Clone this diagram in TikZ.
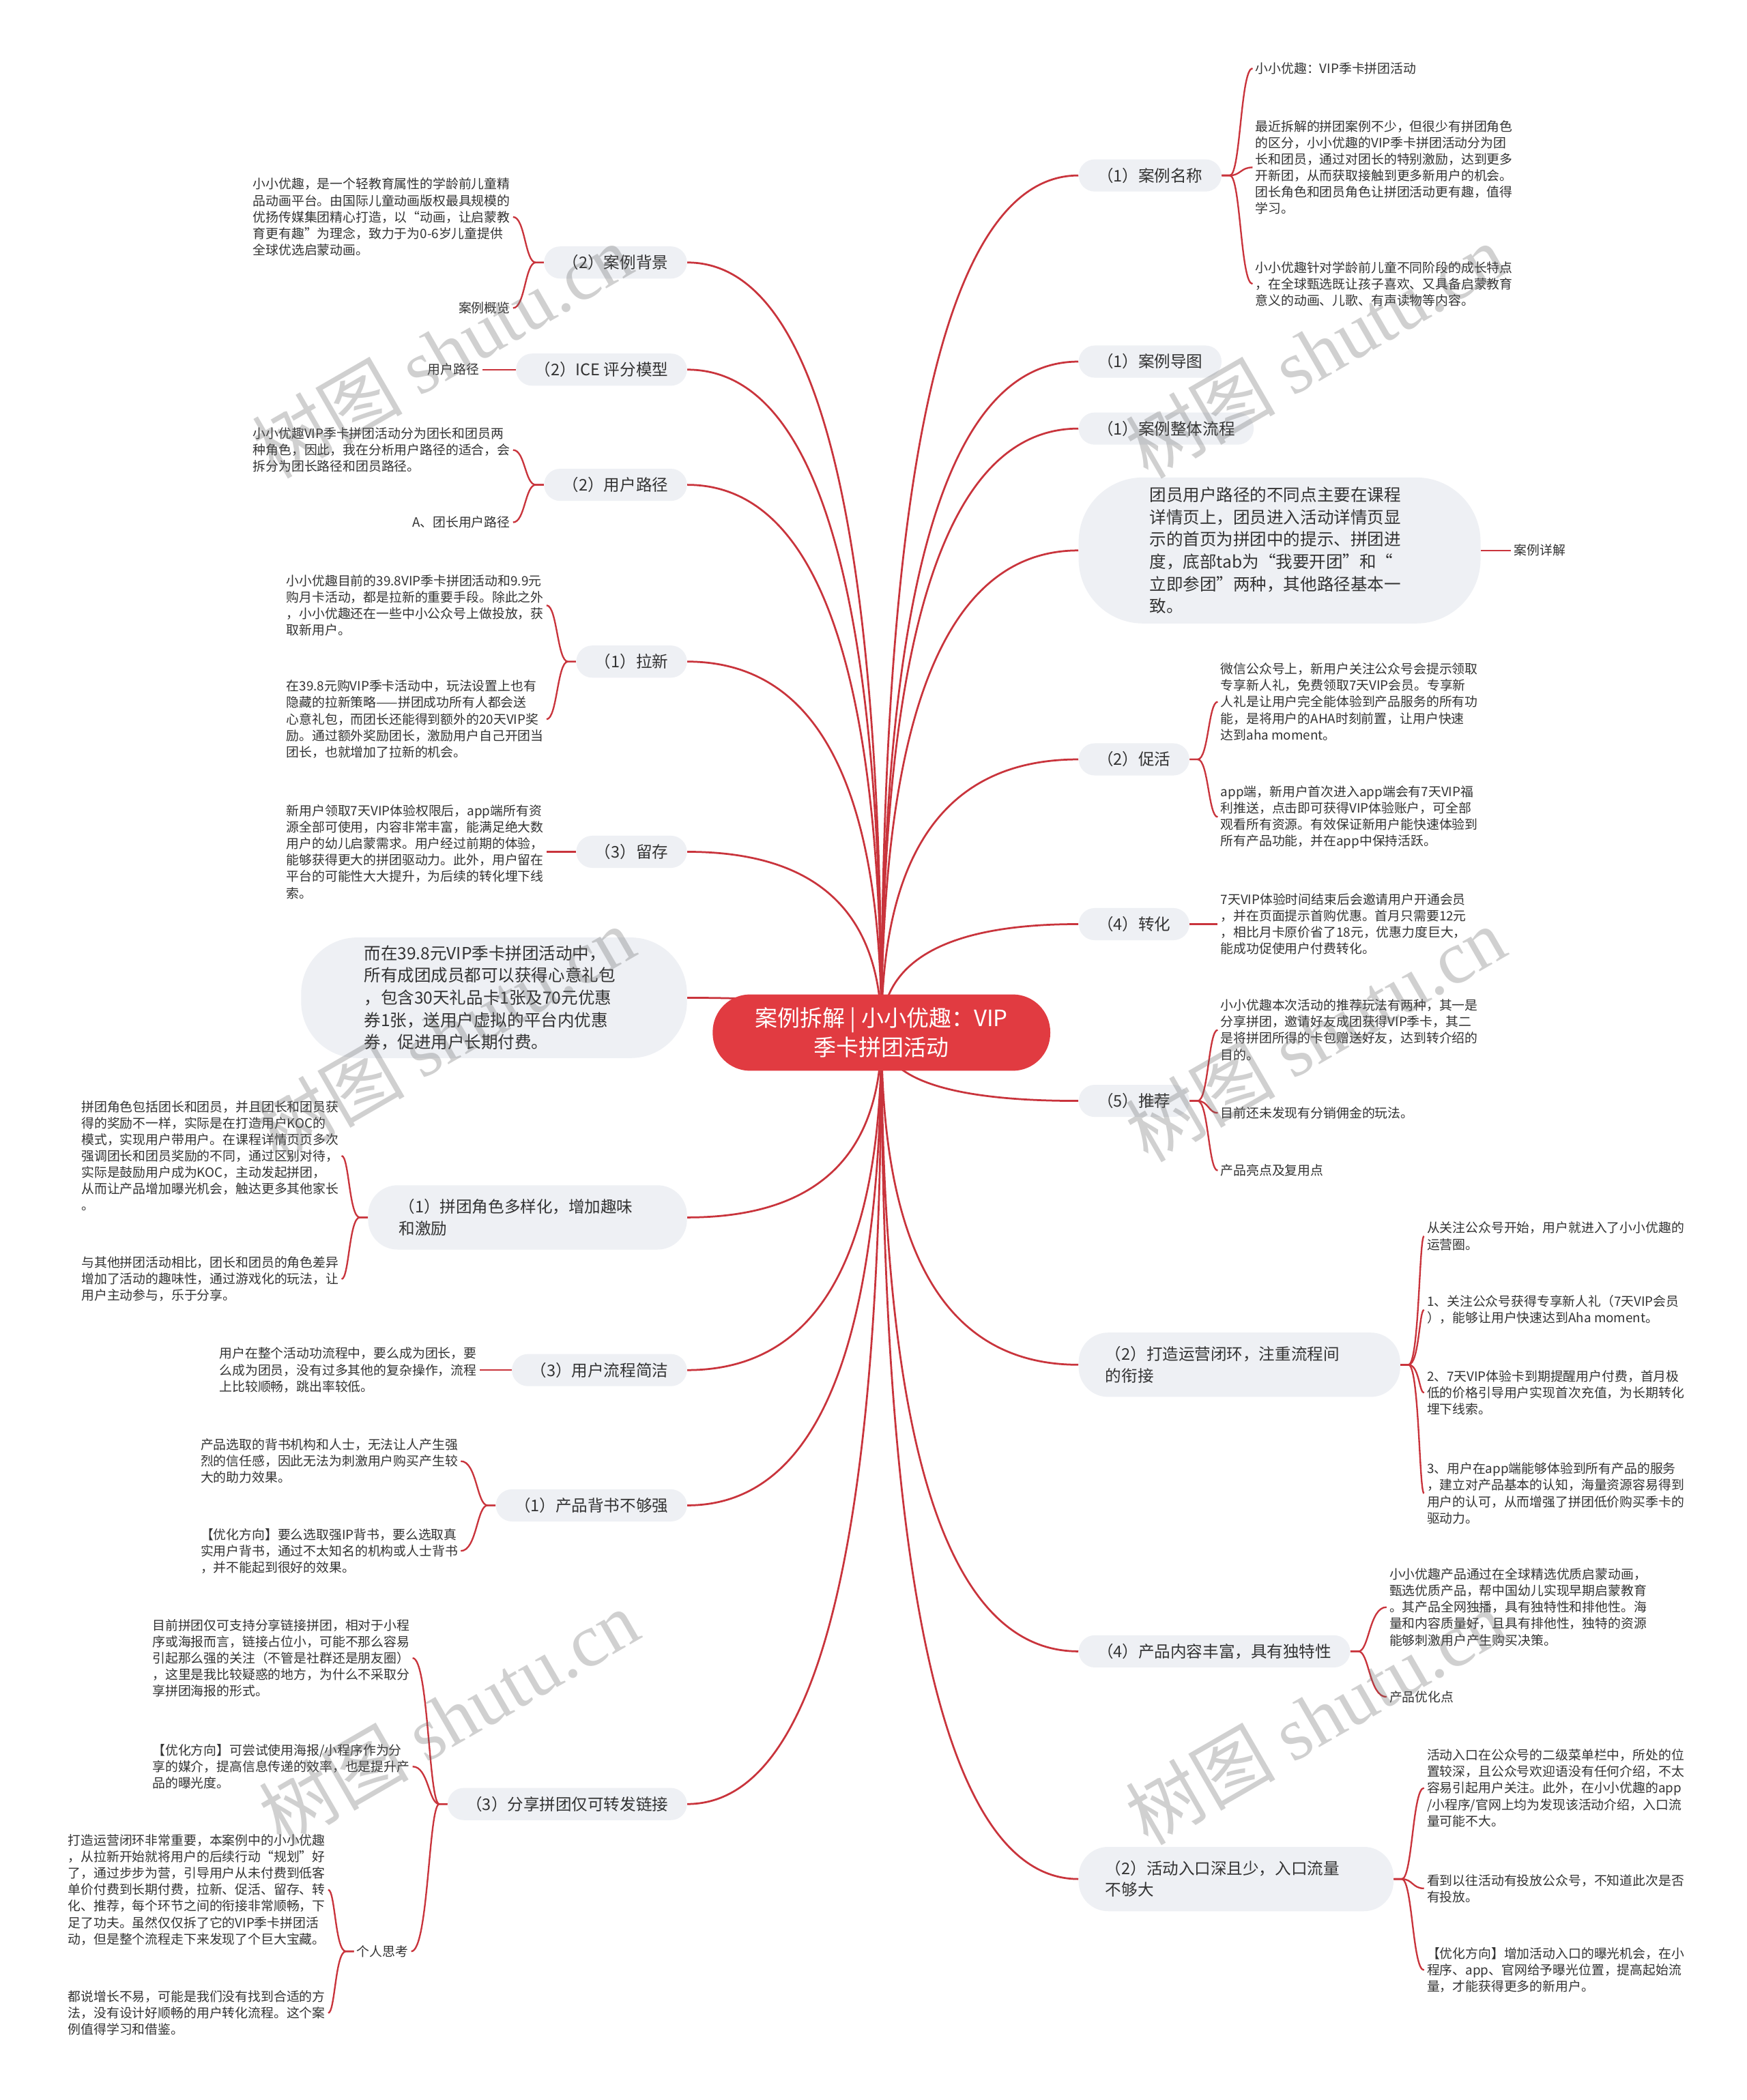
\documentclass[tikz,border=0pt]{standalone}
\usepackage{fontspec}
\setmainfont{Noto Sans CJK SC}
\newfontfamily\wmlatin{Liberation Serif}
\usetikzlibrary{calc,backgrounds}
\definecolor{linered}{HTML}{C9343C}
\definecolor{mainred}{HTML}{E13B41}
\definecolor{pillgray}{HTML}{EEF0F4}
\definecolor{txt}{HTML}{333333}
\newcommand{\rlink}[1]{\draw[mmconn] (c.center) .. controls ($(c.center)!0.667!(c.center |- #1.west)$) and ($(#1.west)!0.667!(c.center |- #1.west)$) .. (#1.west);}
\newcommand{\llink}[1]{\draw[mmconn] (c.center) .. controls ($(c.center)!0.667!(c.center |- #1.east)$) and ($(#1.east)!0.667!(c.center |- #1.east)$) .. (#1.east);}
\newcommand{\rsub}[2]{\draw[mmsub] (#1.east) -- ($(#1.east)+(6,0)$) .. controls ($(#1.east)+(14,0)$) and ($(#1.east |- #2.west)+(14,0)$) .. (#2.west);}
\newcommand{\lsub}[2]{\draw[mmsub] (#1.west) -- ($(#1.west)+(-6,0)$) .. controls ($(#1.west)+(-14,0)$) and ($(#1.west |- #2.east)+(-14,0)$) .. (#2.east);}
\tikzset{
  mmconn/.style={draw=linered, line width=1.4pt},
  mmsub/.style={draw=linered, line width=1.2pt},
  mmhub/.style={fill=mainred, text=white, rounded corners=28pt, minimum width=252pt, minimum height=57pt, align=center, font=\fontsize{16.8}{22}\selectfont},
  mmtopic/.style={fill=pillgray, text=txt, rounded corners=12pt, inner xsep=14pt, inner ysep=5pt, minimum height=24pt, font=\fontsize{12}{16}\selectfont},
  mmtopictwo/.style={fill=pillgray, text=txt, rounded corners=22pt, inner xsep=20pt, inner ysep=8pt, minimum height=48pt, align=left, font=\fontsize{12}{16}\selectfont},
  mmbubble/.style={fill=pillgray, text=txt, align=left, font=\fontsize{12.5}{16.6}\selectfont},
  mmleaf/.style={text=txt, align=left, inner sep=2pt, font=\fontsize{9.6}{12.3}\selectfont},
  mmwm/.style={text=black!60, opacity=0.3, rotate=30, font=\fontsize{56}{60}\selectfont}
}
\begin{document}
\begin{tikzpicture}[x=1pt,y=-1pt]
\useasboundingbox (0,0) rectangle (1304,1568);

% central node
\node[mmhub] (c) at (658,771) {案例拆解 | 小小优趣：VIP\\季卡拼团活动};

% right topics
\node[mmtopic, anchor=west] (r1) at (805,131) {（1）案例名称};
\node[mmtopic, anchor=west] (r2) at (805,270) {（1）案例导图};
\node[mmtopic, anchor=west] (r3) at (805,320) {（1）案例整体流程};
\node[mmbubble, anchor=west, text width=194pt, inner xsep=53pt, minimum height=109pt, rounded corners=48pt] (r4) at (805,411) {团员用户路径的不同点主要在课程\\详情页上，团员进入活动详情页显\\示的首页为拼团中的提示、拼团进\\度，底部tab为“我要开团”和“\\立即参团”两种，其他路径基本一\\致。};
\node[mmtopic, anchor=west] (r5) at (805,567) {（2）促活};
\node[mmtopic, anchor=west] (r6) at (805,690) {（4）转化};
\node[mmtopic, anchor=west] (r7) at (805,822) {（5）推荐};
\node[mmtopictwo, anchor=west, text width=200pt] (r8) at (805,1019) {（2）打造运营闭环，注重流程间\\的衔接};
\node[mmtopic, anchor=west] (r9) at (805,1233) {（4）产品内容丰富，具有独特性};
\node[mmtopictwo, anchor=west, text width=195pt] (r10) at (805,1403) {（2）活动入口深且少，入口流量\\不够大};

% left topics
\node[mmtopic, anchor=east] (l1) at (513,196) {（2）案例背景};
\node[mmtopic, anchor=east] (l2) at (513,276) {（2）ICE 评分模型};
\node[mmtopic, anchor=east] (l3) at (513,362) {（2）用户路径};
\node[mmtopic, anchor=east] (l4) at (513,494) {（1）拉新};
\node[mmtopic, anchor=east] (l5) at (513,636) {（3）留存};
\node[mmbubble, anchor=east, text width=194pt, inner xsep=47pt, minimum height=90pt, rounded corners=42pt] (l6) at (513,745) {而在39.8元VIP季卡拼团活动中，\\所有成团成员都可以获得心意礼包\\，包含30天礼品卡1张及70元优惠\\券1张，送用户虚拟的平台内优惠\\券，促进用户长期付费。};
\node[mmtopictwo, anchor=east, text width=192pt, inner xsep=23pt] (l7) at (513,909) {（1）拼团角色多样化，增加趣味\\和激励};
\node[mmtopic, anchor=east] (l8) at (513,1023) {（3）用户流程简洁};
\node[mmtopic, anchor=east] (l9) at (513,1124) {（1）产品背书不够强};
\node[mmtopic, anchor=east] (l10) at (513,1347) {（3）分享拼团仅可转发链接};

% right leaves
\node[mmleaf, anchor=west] (r1a) at (935,51) {小小优趣：VIP季卡拼团活动};
\node[mmleaf, anchor=west] (r1b) at (935,125) {最近拆解的拼团案例不少，但很少有拼团角色\\的区分，小小优趣的VIP季卡拼团活动分为团\\长和团员，通过对团长的特别激励，达到更多\\开新团，从而获取接触到更多新用户的机会。\\团长角色和团员角色让拼团活动更有趣，值得\\学习。};
\node[mmleaf, anchor=west] (r1c) at (935,212) {小小优趣针对学龄前儿童不同阶段的成长特点\\，在全球甄选既让孩子喜欢、又具备启蒙教育\\意义的动画、儿歌、有声读物等内容。};
\node[mmleaf, anchor=west] (r4a) at (1128,411) {案例详解};
\node[mmleaf, anchor=west] (r5a) at (909,524) {微信公众号上，新用户关注公众号会提示领取\\专享新人礼，免费领取7天VIP会员。专享新\\人礼是让用户完全能体验到产品服务的所有功\\能，是将用户的AHA时刻前置，让用户快速\\达到aha moment。};
\node[mmleaf, anchor=west] (r5b) at (909,610) {app端，新用户首次进入app端会有7天VIP福\\利推送，点击即可获得VIP体验账户，可全部\\观看所有资源。有效保证新用户能快速体验到\\所有产品功能，并在app中保持活跃。};
\node[mmleaf, anchor=west] (r6a) at (909,690) {7天VIP体验时间结束后会邀请用户开通会员\\，并在页面提示首购优惠。首月只需要12元\\，相比月卡原价省了18元，优惠力度巨大，\\能成功促使用户付费转化。};
\node[mmleaf, anchor=west] (r7a) at (909,769) {小小优趣本次活动的推荐玩法有两种，其一是\\分享拼团，邀请好友成团获得VIP季卡，其二\\是将拼团所得的卡包赠送好友，达到转介绍的\\目的。};
\node[mmleaf, anchor=west] (r7b) at (909,831) {目前还未发现有分销佣金的玩法。};
\node[mmleaf, anchor=west] (r7c) at (909,874) {产品亮点及复用点};
\node[mmleaf, anchor=west] (r8a) at (1063,923) {从关注公众号开始，用户就进入了小小优趣的\\运营圈。};
\node[mmleaf, anchor=west] (r8b) at (1063,978) {1、关注公众号获得专享新人礼（7天VIP会员\\），能够让用户快速达到Aha moment。};
\node[mmleaf, anchor=west] (r8c) at (1063,1040) {2、7天VIP体验卡到期提醒用户付费，首月极\\低的价格引导用户实现首次充值，为长期转化\\埋下线索。};
\node[mmleaf, anchor=west] (r8d) at (1063,1115) {3、用户在app端能够体验到所有产品的服务\\，建立对产品基本的认知，海量资源容易得到\\用户的认可，从而增强了拼团低价购买季卡的\\驱动力。};
\node[mmleaf, anchor=west] (r9a) at (1035,1200) {小小优趣产品通过在全球精选优质启蒙动画，\\甄选优质产品，帮中国幼儿实现早期启蒙教育\\。其产品全网独播，具有独特性和排他性。海\\量和内容质量好，且具有排他性，独特的资源\\能够刺激用户产生购买决策。};
\node[mmleaf, anchor=west] (r9b) at (1035,1267) {产品优化点};
\node[mmleaf, anchor=west] (r10a) at (1063,1335) {活动入口在公众号的二级菜单栏中，所处的位\\置较深，且公众号欢迎语没有任何介绍，不太\\容易引起用户关注。此外，在小小优趣的app\\/小程序/官网上均为发现该活动介绍，入口流\\量可能不大。};
\node[mmleaf, anchor=west] (r10b) at (1063,1410) {看到以往活动有投放公众号，不知道此次是否\\有投放。};
\node[mmleaf, anchor=west] (r10c) at (1063,1471) {【优化方向】增加活动入口的曝光机会，在小\\程序、app、官网给予曝光位置，提高起始流\\量，才能获得更多的新用户。};

% left leaves
\node[mmleaf, anchor=east] (l1a) at (383,162) {小小优趣，是一个轻教育属性的学龄前儿童精\\品动画平台。由国际儿童动画版权最具规模的\\优扬传媒集团精心打造，以“动画，让启蒙教\\育更有趣”为理念，致力于为0-6岁儿童提供\\全球优选启蒙动画。};
\node[mmleaf, anchor=east] (l1b) at (383,230) {案例概览};
\node[mmleaf, anchor=east] (l2a) at (360,276) {用户路径};
\node[mmleaf, anchor=east] (l3a) at (383,336) {小小优趣VIP季卡拼团活动分为团长和团员两\\种角色，因此，我在分析用户路径的适合，会\\拆分为团长路径和团员路径。};
\node[mmleaf, anchor=east] (l3b) at (383,390) {A、团长用户路径};
\node[mmleaf, anchor=east] (l4a) at (408,452) {小小优趣目前的39.8VIP季卡拼团活动和9.9元\\购月卡活动，都是拉新的重要手段。除此之外\\，小小优趣还在一些中小公众号上做投放，获\\取新用户。};
\node[mmleaf, anchor=east] (l4b) at (408,537) {在39.8元购VIP季卡活动中，玩法设置上也有\\隐藏的拉新策略——拼团成功所有人都会送\\心意礼包，而团长还能得到额外的20天VIP奖\\励。通过额外奖励团长，激励用户自己开团当\\团长，也就增加了拉新的机会。};
\node[mmleaf, anchor=east] (l5a) at (408,636) {新用户领取7天VIP体验权限后，app端所有资\\源全部可使用，内容非常丰富，能满足绝大数\\用户的幼儿启蒙需求。用户经过前期的体验，\\能够获得更大的拼团驱动力。此外，用户留在\\平台的可能性大大提升，为后续的转化埋下线\\索。};
\node[mmleaf, anchor=east] (l7a) at (255,863) {拼团角色包括团长和团员，并且团长和团员获\\得的奖励不一样，实际是在打造用户KOC的\\模式，实现用户带用户。在课程详情页页多次\\强调团长和团员奖励的不同，通过区别对待，\\实际是鼓励用户成为KOC，主动发起拼团，\\从而让产品增加曝光机会，触达更多其他家长\\。};
\node[mmleaf, anchor=east] (l7b) at (255,955) {与其他拼团活动相比，团长和团员的角色差异\\增加了活动的趣味性，通过游戏化的玩法，让\\用户主动参与，乐于分享。};
\node[mmleaf, anchor=east] (l8a) at (358,1023) {用户在整个活动功流程中，要么成为团长，要\\么成为团员，没有过多其他的复杂操作，流程\\上比较顺畅，跳出率较低。};
\node[mmleaf, anchor=east] (l9a) at (344,1091) {产品选取的背书机构和人士，无法让人产生强\\烈的信任感，因此无法为刺激用户购买产生较\\大的助力效果。};
\node[mmleaf, anchor=east] (l9b) at (344,1158) {【优化方向】要么选取强IP背书，要么选取真\\实用户背书，通过不太知名的机构或人士背书\\，并不能起到很好的效果。};
\node[mmleaf, anchor=east] (l10a) at (308,1238) {目前拼团仅可支持分享链接拼团，相对于小程\\序或海报而言，链接占位小，可能不那么容易\\引起那么强的关注（不管是社群还是朋友圈）\\，这里是我比较疑惑的地方，为什么不采取分\\享拼团海报的形式。};
\node[mmleaf, anchor=east] (l10b) at (308,1319) {【优化方向】可尝试使用海报/小程序作为分\\享的媒介，提高信息传递的效率，也是提升产\\品的曝光度。};
\node[mmleaf, anchor=east] (l10c) at (307,1457) {个人思考};
\node[mmleaf, anchor=east] (l10c1) at (245,1411) {打造运营闭环非常重要，本案例中的小小优趣\\，从拉新开始就将用户的后续行动“规划”好\\了，通过步步为营，引导用户从未付费到低客\\单价付费到长期付费，拉新、促活、留存、转\\化、推荐，每个环节之间的衔接非常顺畅，下\\足了功夫。虽然仅仅拆了它的VIP季卡拼团活\\动，但是整个流程走下来发现了个巨大宝藏。};
\node[mmleaf, anchor=east] (l10c2) at (245,1503) {都说增长不易，可能是我们没有找到合适的方\\法，没有设计好顺畅的用户转化流程。这个案\\例值得学习和借鉴。};

\begin{scope}[on background layer]
\fill[white] (0,0) rectangle (1304,1568);
\rlink{r1}\rlink{r2}\rlink{r3}\rlink{r4}\rlink{r5}\rlink{r6}\rlink{r7}\rlink{r8}\rlink{r9}\rlink{r10}
\llink{l1}\llink{l2}\llink{l3}\llink{l4}\llink{l5}\llink{l6}\llink{l7}\llink{l8}\llink{l9}\llink{l10}
\rsub{r1}{r1a}\rsub{r1}{r1b}\rsub{r1}{r1c}
\rsub{r4}{r4a}
\rsub{r5}{r5a}\rsub{r5}{r5b}
\rsub{r6}{r6a}
\rsub{r7}{r7a}\rsub{r7}{r7b}\rsub{r7}{r7c}
\rsub{r8}{r8a}\rsub{r8}{r8b}\rsub{r8}{r8c}\rsub{r8}{r8d}
\rsub{r9}{r9a}\rsub{r9}{r9b}
\rsub{r10}{r10a}\rsub{r10}{r10b}\rsub{r10}{r10c}
\lsub{l1}{l1a}\lsub{l1}{l1b}
\lsub{l2}{l2a}
\lsub{l3}{l3a}\lsub{l3}{l3b}
\lsub{l4}{l4a}\lsub{l4}{l4b}
\lsub{l5}{l5a}
\lsub{l7}{l7a}\lsub{l7}{l7b}
\lsub{l8}{l8a}
\lsub{l9}{l9a}\lsub{l9}{l9b}
\lsub{l10}{l10a}\lsub{l10}{l10b}\lsub{l10}{l10c}
\lsub{l10c}{l10c1}\lsub{l10c}{l10c2}
\end{scope}

% watermarks
\node[mmwm] (wm1) at (330,262) {树图 {\wmlatin shutu.cn}};
\node[mmwm] (wm2) at (982,262) {树图 {\wmlatin shutu.cn}};
\node[mmwm] (wm3) at (332,772) {树图 {\wmlatin shutu.cn}};
\node[mmwm] (wm4) at (982,772) {树图 {\wmlatin shutu.cn}};
\node[mmwm] (wm5) at (335,1282) {树图 {\wmlatin shutu.cn}};
\node[mmwm] (wm6) at (982,1282) {树图 {\wmlatin shutu.cn}};
\end{tikzpicture}
\end{document}
